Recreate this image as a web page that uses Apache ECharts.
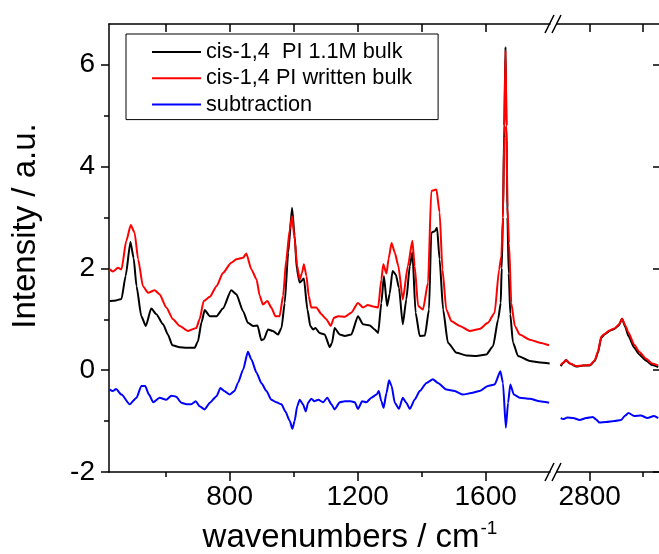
<!DOCTYPE html>
<html>
<head>
<meta charset="utf-8">
<script src="https://cdn.jsdelivr.net/npm/echarts@6/dist/echarts.min.js"></script>
<style>
html,body{margin:0;padding:0;background:#fff;}
#chart{width:659px;height:554px;}
</style>
</head>
<body>
<div id="chart"></div>
<script>
// ---------- data ----------
const seriesNames = ['cis-1,4  PI 1.1M bulk', 'cis-1,4 PI written bulk', 'subtraction'];
const xTickLabelsLeft = [800, 1200, 1600];
const xMinorLeft = [600, 1000, 1400];
const xTopTicksLeft = [600, 800, 1000, 1200, 1400, 1600];
const xTickLabelsRight = [2800];
const xMinorRight = [3000];
const yTickLabels = [-2, 0, 2, 4, 6];
const yMinor = [-1, 1, 3, 5];

// black: cis-1,4 PI 1.1M bulk (low wavenumber part)
const blackWnL = [425,445,462,475,490,500,509,524,538,555,571,592,607,621,644,665,691,701,712,722,738,759,779,805,821,842,857,873,887,899,907,920,935,951,962,972,983,995,1003,1010,1019,1032,1043,1052,1061,1068,1081,1097,1113,1120,1128,1144,1160,1180,1201,1217,1238,1253,1264,1274,1282,1292,1300,1309,1319,1329,1341,1352,1363,1371,1381,1394,1410,1423,1430,1441,1448,1456,1467,1482,1509,1540,1571,1602,1623,1639,1647,1650,1654,1658,1662,1665,1668,1672,1677,1685,1701,1738,1770,1800];
const blackL  = [1.36,1.37,1.40,1.85,2.52,2.20,1.65,1.06,0.87,1.21,1.10,0.90,0.70,0.49,0.45,0.44,0.44,0.57,0.94,1.18,1.06,1.06,1.21,1.57,1.49,1.16,0.93,0.87,0.88,0.59,0.61,0.80,0.77,0.70,0.83,1.32,2.31,3.19,2.64,1.98,1.72,1.80,1.19,0.87,0.80,0.83,0.73,0.70,0.45,0.54,0.83,0.70,0.67,0.70,1.06,0.90,0.88,0.80,0.73,1.32,1.85,1.26,1.50,1.95,1.88,1.62,0.90,1.39,2.05,2.31,1.13,0.67,0.68,1.19,2.70,2.73,2.80,2.18,1.19,0.54,0.34,0.29,0.28,0.31,0.47,1.00,1.32,2.00,3.00,4.80,6.35,4.80,3.00,1.90,1.10,0.55,0.28,0.18,0.15,0.13];

// red: cis-1,4 PI written bulk (low wavenumber part)
const redWnL = [425,435,451,462,477,491,503,514,529,545,566,581,602,623,644,670,696,706,719,738,759,779,805,821,842,852,868,884,894,904,918,930,943,956,967,977,988,995,1003,1011,1019,1026,1032,1040,1047,1055,1071,1087,1102,1116,1126,1139,1160,1180,1201,1217,1232,1248,1264,1274,1280,1290,1297,1306,1316,1327,1341,1357,1371,1378,1389,1404,1420,1430,1446,1456,1465,1477,1493,1519,1550,1581,1607,1628,1642,1649,1654,1658,1662,1665,1668,1673,1680,1691,1706,1738,1769,1798];
const redL  = [1.98,1.94,2.01,1.98,2.54,2.85,2.70,2.18,1.65,1.52,1.57,1.49,1.23,1.00,0.87,0.77,0.83,1.00,1.36,1.44,1.65,1.91,2.11,2.18,2.21,2.29,1.98,1.78,1.46,1.29,1.36,1.23,1.06,1.06,1.46,2.18,2.77,3.03,2.57,2.05,1.78,1.91,2.08,1.85,1.46,1.23,1.23,1.10,1.00,0.87,1.03,1.06,1.05,1.13,1.32,1.23,1.28,1.25,1.23,1.78,2.08,1.90,2.20,2.50,2.31,2.05,1.39,2.05,2.54,2.05,1.26,1.19,1.72,3.52,3.55,3.10,1.98,1.19,0.96,0.87,0.77,0.81,0.93,1.13,1.98,2.24,3.00,4.60,6.28,4.80,3.20,2.50,1.32,0.87,0.70,0.60,0.54,0.49];

// blue: subtraction (low wavenumber part)
const blueWnL = [425,435,445,462,488,509,524,536,548,561,581,602,618,633,649,665,680,694,706,722,738,759,771,783,800,815,826,842,857,868,884,899,915,930,946,962,974,988,996,1003,1011,1019,1029,1038,1045,1055,1065,1077,1092,1105,1118,1128,1144,1160,1178,1191,1201,1214,1227,1243,1259,1266,1274,1281,1290,1298,1306,1316,1329,1341,1352,1363,1378,1394,1415,1435,1451,1477,1503,1529,1555,1581,1607,1628,1646,1654,1663,1670,1677,1688,1706,1738,1769,1798];
const blueL  = [-0.38,-0.41,-0.37,-0.48,-0.67,-0.54,-0.31,-0.31,-0.48,-0.63,-0.54,-0.58,-0.50,-0.52,-0.64,-0.67,-0.67,-0.61,-0.71,-0.77,-0.64,-0.51,-0.35,-0.41,-0.48,-0.41,-0.25,0.01,0.36,0.21,-0.05,-0.25,-0.41,-0.58,-0.63,-0.67,-0.81,-1.00,-1.15,-1.00,-0.71,-0.58,-0.67,-0.81,-0.64,-0.56,-0.61,-0.58,-0.63,-0.54,-0.67,-0.77,-0.63,-0.61,-0.61,-0.63,-0.76,-0.61,-0.63,-0.54,-0.48,-0.41,-0.61,-0.74,-0.45,-0.20,-0.31,-0.64,-0.76,-0.54,-0.64,-0.76,-0.58,-0.41,-0.25,-0.18,-0.25,-0.38,-0.41,-0.48,-0.45,-0.41,-0.31,-0.28,-0.02,-0.25,-1.13,-0.64,-0.28,-0.48,-0.54,-0.56,-0.61,-0.64];

// high wavenumber part (C-H stretching region)
const rightWn = [2690,2700,2710,2725,2750,2775,2800,2819,2831,2844,2856,2875,2894,2910,2923,2935,2947,2969,2988,3013,3037,3060];
const blackR  = [0.08,0.14,0.20,0.13,0.07,0.09,0.09,0.18,0.34,0.64,0.70,0.77,0.81,0.88,1.01,0.85,0.67,0.44,0.31,0.19,0.10,0.06];
const redR    = [0.10,0.15,0.20,0.13,0.08,0.09,0.10,0.19,0.36,0.66,0.71,0.78,0.82,0.89,1.01,0.88,0.74,0.50,0.36,0.23,0.13,0.09];
const blueWnR = [2690,2700,2715,2737,2762,2787,2812,2825,2837,2862,2894,2919,2935,2947,2969,2994,3019,3044,3060];
const blueR   = [-0.94,-0.96,-0.93,-0.94,-0.98,-0.94,-0.92,-0.97,-1.03,-1.02,-1.00,-0.98,-0.89,-0.84,-0.90,-0.89,-0.94,-0.90,-0.94];

// ---------- chart ----------
const zip = (xs, ys) => xs.map((x, i) => [x, ys[i]]);
const colors = ['#000000', '#ff0000', '#0000ff'];
const FONT = '"Liberation Sans", Arial, sans-serif';
const axisCol = '#000';
const Y_MIN = -2, Y_MAX = 6.8;
const plain = v => String(v);

const chart = echarts.init(document.getElementById('chart'), null, {renderer: 'canvas'});

function xAx(opts) {
  return Object.assign({
    type: 'value', scale: true, splitLine: {show: false},
    axisLine: {show: false, lineStyle: {color: axisCol, width: 1.5}},
    axisTick: {show: false}, axisLabel: {show: false}
  }, opts);
}
const tickLabel = (vals) => ({show: true, customValues: vals, formatter: plain,
  fontFamily: FONT, fontSize: 28, color: '#000', margin: 11});

const option = {
  animation: false,
  backgroundColor: '#fff',
  color: colors,
  grid: [
    {left: 109, top: 24, width: 441, height: 448},
    {left: 557, top: 24, width: 103, height: 448}
  ],
  legend: {
    left: 126, top: 34, orient: 'vertical', align: 'left',
    data: seriesNames,
    icon: 'rect', itemWidth: 49, itemHeight: 2, itemGap: 4.3,
    borderColor: '#000', borderWidth: 1,
    padding: [7, 26, 4, 26],
    textStyle: {fontFamily: FONT, fontSize: 21.7, color: '#000', lineHeight: 22},
    selectedMode: false
  },
  xAxis: [
    xAx({gridIndex: 0, position: 'bottom', min: 423, max: 1801,
      axisLine: {show: true, onZero: false, lineStyle: {color: axisCol, width: 1.5}},
      axisTick: {show: true, customValues: xTickLabelsLeft, length: 9, lineStyle: {color: axisCol, width: 1.5}},
      axisLabel: tickLabel(xTickLabelsLeft)}),
    xAx({gridIndex: 0, position: 'bottom', min: 423, max: 1801,
      axisLine: {show: false, onZero: false},
      axisTick: {show: true, customValues: xMinorLeft, length: 5, lineStyle: {color: axisCol, width: 1.5}}}),
    xAx({gridIndex: 0, position: 'top', min: 423, max: 1801,
      axisLine: {show: true, onZero: false, lineStyle: {color: axisCol, width: 1.5}},
      axisTick: {show: true, inside: true, customValues: xTopTicksLeft, length: 8, lineStyle: {color: axisCol, width: 1.5}}}),
    xAx({gridIndex: 1, position: 'bottom', min: 2676, max: 3063,
      axisLine: {show: true, onZero: false, lineStyle: {color: axisCol, width: 1.5}},
      axisTick: {show: true, customValues: xTickLabelsRight, length: 9, lineStyle: {color: axisCol, width: 1.5}},
      axisLabel: tickLabel(xTickLabelsRight)}),
    xAx({gridIndex: 1, position: 'bottom', min: 2676, max: 3063,
      axisLine: {show: false, onZero: false},
      axisTick: {show: true, customValues: xMinorRight, length: 5, lineStyle: {color: axisCol, width: 1.5}}}),
    xAx({gridIndex: 1, position: 'top', min: 2676, max: 3063,
      axisLine: {show: true, onZero: false, lineStyle: {color: axisCol, width: 1.5}},
      axisTick: {show: true, inside: true, customValues: [2800, 3000], length: 8, lineStyle: {color: axisCol, width: 1.5}}})
  ],
  yAxis: [
    {type: 'value', gridIndex: 0, position: 'left', min: Y_MIN, max: Y_MAX, splitLine: {show: false},
      axisLine: {show: true, onZero: false, lineStyle: {color: axisCol, width: 1.5}},
      axisTick: {show: true, customValues: yTickLabels, length: 8, lineStyle: {color: axisCol, width: 1.5}},
      axisLabel: Object.assign(tickLabel(yTickLabels), {margin: 14})},
    {type: 'value', gridIndex: 0, position: 'left', min: Y_MIN, max: Y_MAX, splitLine: {show: false},
      axisLine: {show: false, onZero: false},
      axisTick: {show: true, customValues: yMinor, length: 5, lineStyle: {color: axisCol, width: 1.5}},
      axisLabel: {show: false}},
    {type: 'value', gridIndex: 1, position: 'left', min: Y_MIN, max: Y_MAX, splitLine: {show: false},
      axisLine: {show: false}, axisTick: {show: false}, axisLabel: {show: false}},
    {type: 'value', gridIndex: 1, position: 'right', min: Y_MIN, max: Y_MAX, splitLine: {show: false},
      axisLine: {show: false, onZero: false},
      axisTick: {show: true, inside: true, customValues: yTickLabels, length: 6, lineStyle: {color: axisCol, width: 1.5}},
      axisLabel: {show: false}}
  ],
  series: [
    {name: seriesNames[0], type: 'line', xAxisIndex: 0, yAxisIndex: 0, data: zip(blackWnL, blackL)},
    {name: seriesNames[1], type: 'line', xAxisIndex: 0, yAxisIndex: 0, data: zip(redWnL, redL)},
    {name: seriesNames[2], type: 'line', xAxisIndex: 0, yAxisIndex: 0, data: zip(blueWnL, blueL)},
    {name: seriesNames[0], type: 'line', xAxisIndex: 3, yAxisIndex: 2, data: zip(rightWn, blackR)},
    {name: seriesNames[1], type: 'line', xAxisIndex: 3, yAxisIndex: 2, data: zip(rightWn, redR)},
    {name: seriesNames[2], type: 'line', xAxisIndex: 3, yAxisIndex: 2, data: zip(blueWnR, blueR)}
  ].map((s, i) => Object.assign(s, {
    symbol: 'none', clip: true, smooth: 0.2, smoothMonotone: 'x',
    lineStyle: {width: 2, color: colors[i % 3]},
    itemStyle: {color: colors[i % 3]}
  })),
  graphic: [
    {type: 'line', shape: {x1: 545, y1: 481, x2: 554, y2: 463}, style: {stroke: '#000', lineWidth: 1.5}},
    {type: 'line', shape: {x1: 552, y1: 481, x2: 561, y2: 463}, style: {stroke: '#000', lineWidth: 1.5}},
    {type: 'line', shape: {x1: 545, y1: 33, x2: 554, y2: 15}, style: {stroke: '#000', lineWidth: 1.5}},
    {type: 'line', shape: {x1: 552, y1: 33, x2: 561, y2: 15}, style: {stroke: '#000', lineWidth: 1.5}},
    {type: 'text', x: 350, y: 538, style: {
      x: 0, y: 0, align: 'center', verticalAlign: 'middle',
      text: '{a|wavenumbers / cm}{s|-1}',
      rich: {a: {fontFamily: FONT, fontSize: 33, fill: '#000'},
             s: {fontFamily: FONT, fontSize: 19, fill: '#000', verticalAlign: 'top', padding: [0, 0, 18, 1]}}
    }},
    {type: 'text', rotation: Math.PI / 2, x: 26, y: 226, style: {
      x: 0, y: 0, align: 'center', verticalAlign: 'middle',
      text: 'Intensity / a.u.', fontFamily: FONT, fontSize: 33, fill: '#000'
    }}
  ]
};
chart.setOption(option);
</script>
</body>
</html>
